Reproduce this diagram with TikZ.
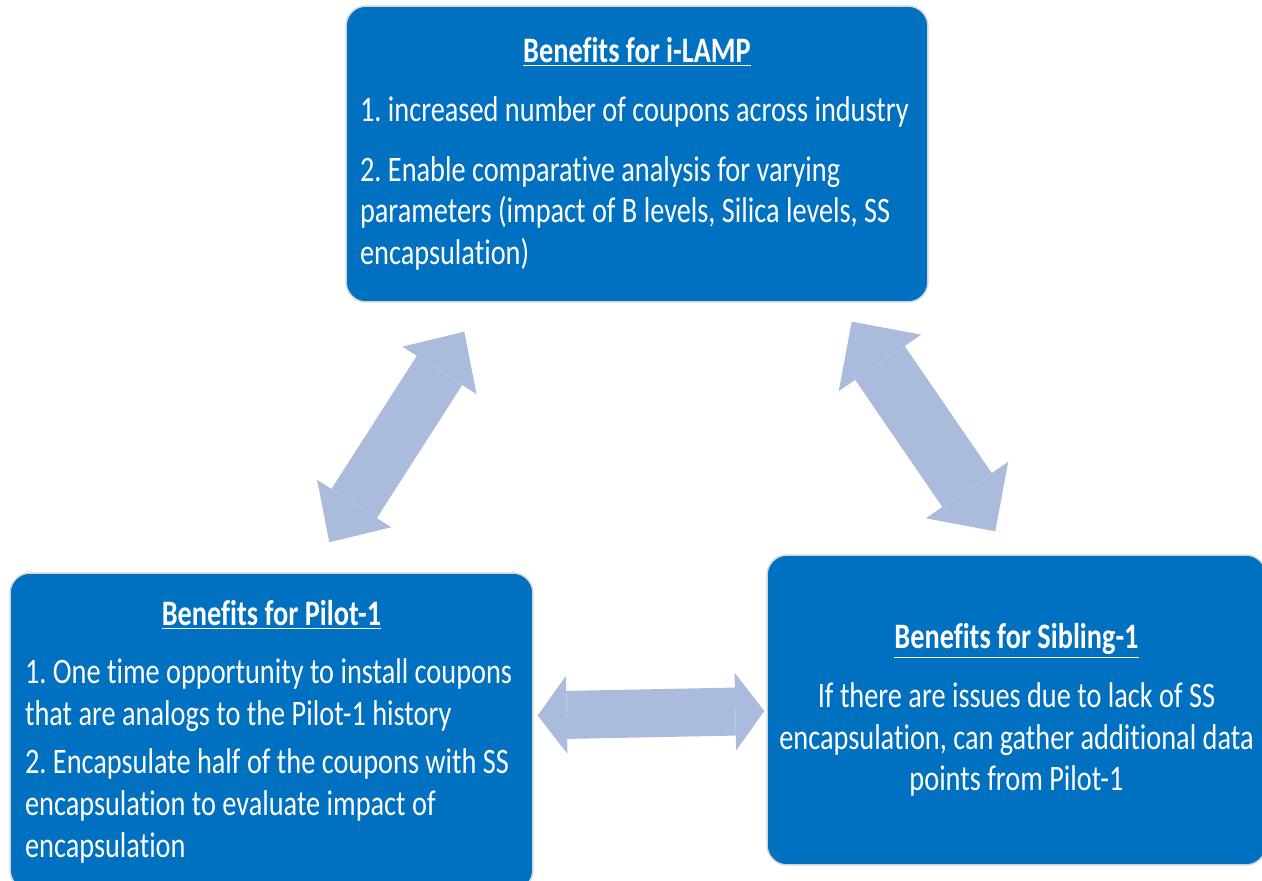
\documentclass[tikz,border=0pt]{standalone}
\usepackage{fontspec}
\newfontfamily\boxfont[FakeStretch=0.79,Ligatures=CommonOff]{Carlito}
\usetikzlibrary{arrows.meta}

\definecolor{boxblue}{RGB}{0,112,192}
\definecolor{arrowblue}{RGB}{170,187,220}
\definecolor{boxedge}{RGB}{214,214,214}

\tikzset{
  infobox/.style={draw=boxedge, line width=0.03cm, fill=boxblue, rounded corners=0.4cm,
    text=white, inner xsep=0.28cm, inner ysep=0pt, align=flush left,
    font=\boxfont\fontsize{20.4pt}{23.8pt}\selectfont\frenchspacing},
  dblarrow/.style n args={3}{draw=arrowblue, line width=#1,
    {Triangle[width=#2,length=#3,line width=0pt]}-{Triangle[width=#2,length=#3,line width=0pt]}}
}

\newcommand\boxtitle[1]{{\centering\bfseries\underline{#1}\par}\vspace{0.34cm}}

\begin{document}
\begin{tikzpicture}[x=0.02cm,y=-0.02cm]
\useasboundingbox (0,0) rectangle (1262,881);

% Boxes
\node[infobox, minimum width=11.64cm, minimum height=5.92cm, text width=11.08cm] (ilamp) at (637,154) {%
\boxtitle{Benefits for i-LAMP}
1. increased number of coupons across industry\par\vspace{0.36cm}
2. Enable comparative analysis for varying\\
parameters (impact of B levels, Silica levels, SS\\
encapsulation)};

\node[infobox, inner xsep=0.3cm, minimum width=10.46cm, minimum height=6.34cm, text width=9.86cm] (pilot) at (271.5,731.5) {%
\boxtitle{Benefits for Pilot-1}
1. One time opportunity to install coupons\\
that are analogs to the Pilot-1 history\par\vspace{0.12cm}
2. Encapsulate half of the coupons with SS\\
encapsulation to evaluate impact of\\
encapsulation};

\node[infobox, inner xsep=0.15cm, align=flush center, minimum width=9.98cm, minimum height=6.2cm, text width=9.68cm] (sibling) at (1016.5,710) {%
\boxtitle{Benefits for Sibling-1}
If there are issues due to lack of SS\\
encapsulation, can gather additional data\\
points from Pilot-1};

% Arrows
\draw[dblarrow={1.08cm}{1.76cm}{0.92cm}] ([shift={(119,29)}]ilamp.south west) -- ([shift={(320,-30)}]pilot.north west);
\draw[dblarrow={1.2cm}{2.0cm}{1.0cm}] ([shift={(-77,19)}]ilamp.south east) -- ([shift={(229,-23)}]sibling.north west);
\draw[dblarrow={0.96cm}{1.56cm}{0.58cm}] ([shift={(4,-16)}]pilot.east) -- ([shift={(-2,1)}]sibling.west);

\end{tikzpicture}
\end{document}
